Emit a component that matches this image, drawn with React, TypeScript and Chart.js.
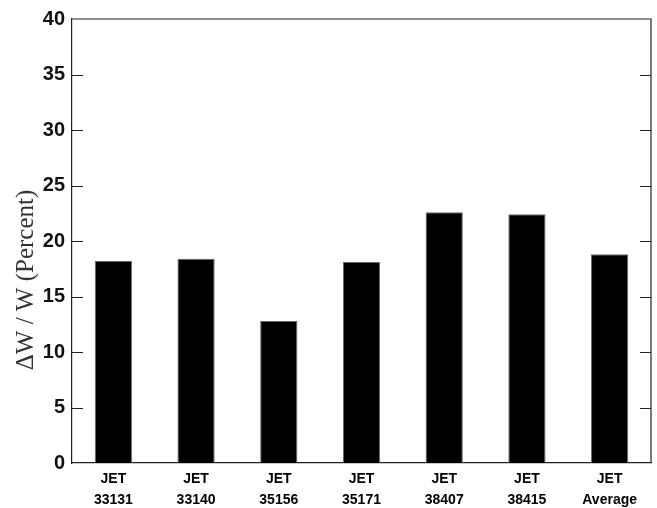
import React, { useEffect, useRef } from "react";
import { Chart, registerables } from "chart.js";

Chart.register(...registerables);

const shotNames = ["33131", "33140", "35156", "35171", "38407", "38415", "Average"];
const categories = shotNames.map((s) => ["JET", s]);
const deltaW = [18.2, 18.4, 12.8, 18.1, 22.6, 22.4, 18.8];
const yTicks = [0, 5, 10, 15, 20, 25, 30, 35, 40];
const yTitle = "\u0394W / W (Percent)";

const framePlugin = {
  id: "frame",
  afterDraw(chart: any) {
    const { ctx, chartArea } = chart;
    const { left, right, top, bottom } = chartArea;
    const y = chart.scales.y;
    ctx.save();
    ctx.strokeStyle = "#222";
    ctx.lineWidth = 1.2;
    ctx.beginPath();
    ctx.moveTo(left, top);
    ctx.lineTo(right, top);
    ctx.lineTo(right, bottom);
    ctx.stroke();
    ctx.lineWidth = 1;
    y.ticks.forEach((t: any) => {
      const py = Math.round(y.getPixelForValue(t.value)) + 0.5;
      if (t.value === 0 || t.value === 40) return;
      ctx.beginPath();
      ctx.moveTo(left, py);
      ctx.lineTo(left + 11, py);
      ctx.moveTo(right - 11, py);
      ctx.lineTo(right, py);
      ctx.stroke();
    });
    // y-axis title
    ctx.translate(26, 280);
    ctx.rotate(-Math.PI / 2);
    ctx.fillStyle = "#333";
    ctx.font = "25px 'Liberation Serif', 'Times New Roman', serif";
    ctx.textAlign = "center";
    ctx.textBaseline = "middle";
    ctx.fillText(yTitle, 0, 0);
    ctx.restore();
  },
};

export default function App() {
  const ref = useRef<HTMLCanvasElement | null>(null);
  useEffect(() => {
    document.body.style.margin = "0";
    const chart = new Chart(ref.current as HTMLCanvasElement, {
      type: "bar",
      data: {
        labels: categories,
        datasets: [
          {
            data: deltaW,
            backgroundColor: "#000",
            borderColor: "#666",
            borderWidth: 1,
            barPercentage: 0.45,
            categoryPercentage: 1,
          },
        ],
      },
      options: {
        animation: false,
        responsive: false,
        maintainAspectRatio: false,
        layout: { padding: { top: 19, right: 6, left: 0, bottom: 0 } },
        plugins: { legend: { display: false }, tooltip: { enabled: false } },
        scales: {
          x: {
            grid: { display: false, drawTicks: false },
            border: { display: true, color: "#222", width: 1.2 },
            ticks: {
              color: "#000",
              padding: 6,
              maxRotation: 0,
              autoSkip: false,
              font: { family: "'Liberation Sans', Arial, sans-serif", size: 14, weight: "bold", lineHeight: 1.5 },
            },
            afterFit: (s: any) => {
              s.height = 45;
            },
          },
          y: {
            min: 0,
            max: 40,
            grid: { display: false, drawTicks: false },
            border: { display: true, color: "#222", width: 1.2 },
            afterBuildTicks: (s: any) => {
              s.ticks = yTicks.map((v) => ({ value: v }));
            },
            ticks: {
              color: "#111",
              padding: 7,
              font: { family: "'Liberation Sans', Arial, sans-serif", size: 20, weight: "bold" },
            },
            afterFit: (s: any) => {
              s.width = 72;
            },
          },
        },
      },
      plugins: [framePlugin],
    });
    return () => chart.destroy();
  }, []);
  return (
    <div style={{ width: 657, height: 508, background: "#fff" }}>
      <canvas ref={ref} width={657} height={508} style={{ display: "block" }} />
    </div>
  );
}
